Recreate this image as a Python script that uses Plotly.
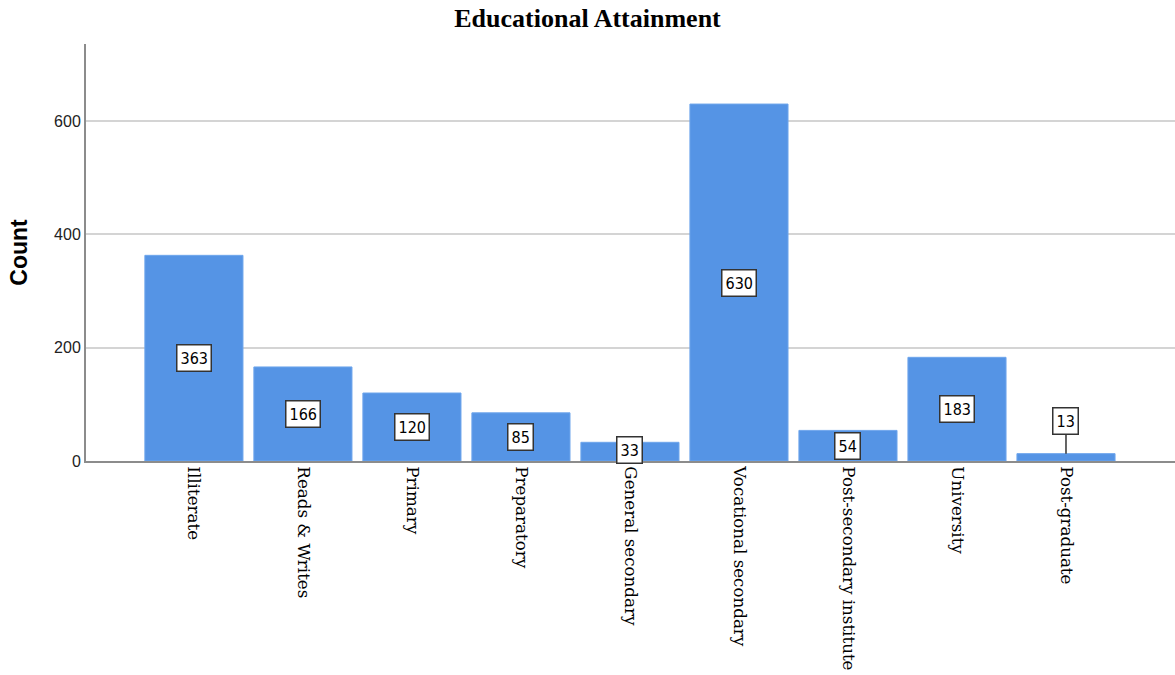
import plotly.graph_objects as go

categories = ["Illiterate", "Reads & Writes", "Primary", "Preparatory", "General secondary",
              "Vocational secondary", "Post-secondary institute", "University", "Post-graduate"]
counts = [363, 166, 120, 85, 33, 630, 54, 183, 13]
y_ticks = [0, 200, 400, 600]

fig = go.Figure()
fig.add_trace(go.Bar(
    x=list(range(len(categories))), y=counts, width=0.9,
    marker=dict(color="#5594E5", line=dict(color="#6FA6EC", width=1)),
    hoverinfo="y",
))

lab_font = dict(family="DejaVu Sans Condensed", size=16, color="black")
annotations = []
for i, v in enumerate(counts):
    if v < 20:
        annotations.append(dict(x=i, y=v, xref="x", yref="y", text=str(v), showarrow=True,
                                arrowhead=0, arrowwidth=1.5, arrowcolor="#333333", ax=0, ay=-33,
                                bgcolor="white", bordercolor="#333333", borderwidth=1.5, borderpad=3,
                                font=lab_font))
    else:
        annotations.append(dict(x=i, y=max(v / 2, 20), xref="x", yref="y", text=str(v), showarrow=False,
                                bgcolor="white", bordercolor="#333333", borderwidth=1.5, borderpad=3,
                                font=lab_font))

fig.update_layout(
    width=1175, height=675,
    margin=dict(l=86, r=0, t=44, b=214),
    paper_bgcolor="white", plot_bgcolor="white",
    title=dict(text="<b>Educational Attainment</b>", x=0.5, xanchor="center", y=0.974, yanchor="middle",
               font=dict(family="Liberation Serif", size=26, color="black")),
    showlegend=False,
    bargap=0.1,
    annotations=annotations,
    xaxis=dict(range=[-0.99, 9.0], tickmode="array", tickvals=list(range(len(categories))),
               ticktext=categories, tickangle=90, showgrid=False, zeroline=False,
               showline=True, linecolor="#8c8c8c", linewidth=2, ticks="", ticklen=4,
               tickfont=dict(family="DejaVu Serif", size=16.7, color="black")),
    yaxis=dict(range=[0, 736], tickvals=y_ticks, showgrid=True, gridcolor="#d4d4d4", gridwidth=2,
               zeroline=False, showline=True, linecolor="#8c8c8c", linewidth=2, ticks="",
               tickfont=dict(family="Liberation Sans", size=16, color="#222222"),
               title=dict(text="<b>Count</b>", font=dict(family="Liberation Sans", size=23, color="black"),
                          standoff=20)),
)

fig.write_html("out.html")
